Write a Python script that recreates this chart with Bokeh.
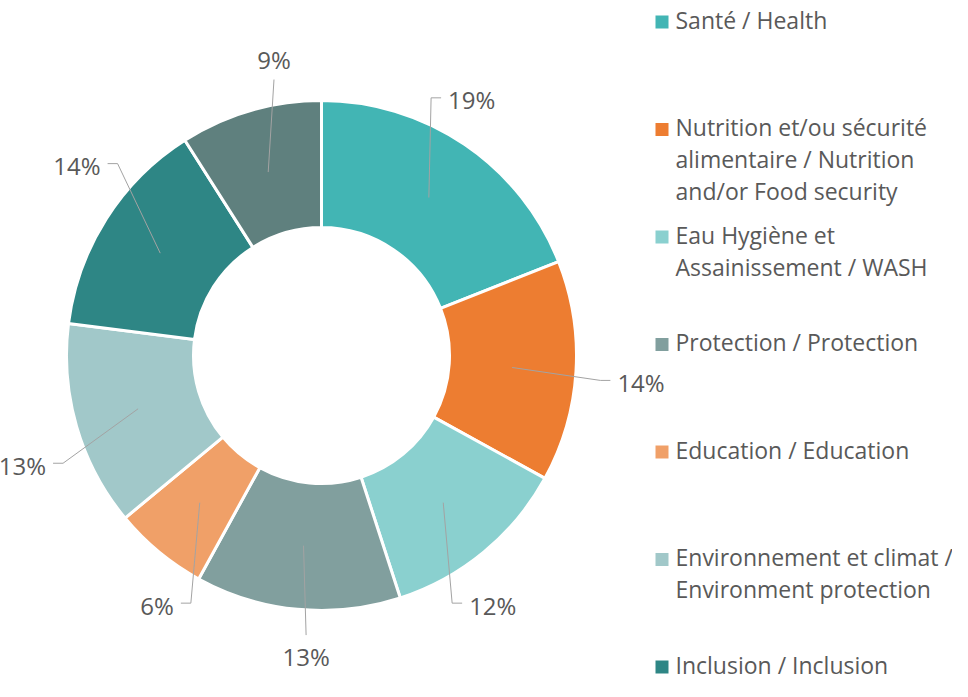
import math
from bokeh.plotting import figure
from bokeh.models import Range1d, ColumnDataSource
from bokeh.core.properties import value
from bokeh.embed import file_html
from bokeh.resources import INLINE

# ---- data ----
categories = [
    "Santé / Health",
    "Nutrition et/ou sécurité\nalimentaire / Nutrition\nand/or Food security",
    "Eau Hygiène et\nAssainissement / WASH",
    "Protection / Protection",
    "Education / Education",
    "Environnement et climat /\nEnvironment protection",
    "Inclusion / Inclusion",
]
shares = [19, 14, 12, 13, 6, 13, 14, 9]
colors = ["#42B5B4", "#ED7D31", "#8AD0CF", "#819F9E", "#F0A068", "#A1C8C9", "#2E8685", "#5F807E"]

# ---- layout (data units = pixels, y measured from the bottom) ----
W, H = 952, 681
CX, CY = 321, H - 355       # donut centre
R_OUT, R_IN = 255, 128
R_LEAD_IN, R_LAB = 191, 280
SEG, GAP = 10, 7
FONT = value("Open Sans")
LBL_FS = "24px"
LEG_FS = "23px"
TXT = "#595959"
LEAD = "#A3A3A3"

p = figure(width=W, height=H, output_backend="svg", toolbar_location=None,
           x_range=Range1d(0, W), y_range=Range1d(0, H), min_border=0)
p.axis.visible = False
p.grid.visible = False
p.outline_line_color = None
p.background_fill_color = "white"
p.border_fill_color = "white"

total = float(sum(shares))
starts, ends, mids = [], [], []
cum = 0.0
for v in shares:
    a0 = 2 * math.pi * cum / total
    a1 = 2 * math.pi * (cum + v) / total
    starts.append(math.pi / 2 - a0)
    ends.append(math.pi / 2 - a1)
    mids.append((a0 + a1) / 2)
    cum += v

src = ColumnDataSource(dict(start=starts, end=ends, color=colors[:len(shares)]))
p.annular_wedge(x=CX, y=CY, inner_radius=R_IN, outer_radius=R_OUT,
                start_angle="start", end_angle="end", direction="clock",
                fill_color="color", line_color="white", line_width=3, source=src)

# leader lines + labels (labels spread toward the vertical axis)
xs, ys = [], []
lx, ly, lt, la = [], [], [], []
k = math.radians(12)
for v, th in zip(shares, mids):
    tl = th - k * math.sin(2 * th)
    x0 = CX + R_LEAD_IN * math.sin(th)
    y0 = CY + R_LEAD_IN * math.cos(th)
    xe = CX + R_LAB * math.sin(tl)
    ye = CY + R_LAB * math.cos(tl)
    if abs(math.sin(tl)) < 0.3:
        xs.append([x0, xe]); ys.append([y0, ye])
        up = math.cos(tl) > 0
        lx.append(xe); ly.append(ye + (20 if up else -21))
        la.append("center")
    else:
        s = 1 if math.sin(tl) > 0 else -1
        xs.append([x0, xe, xe + s * SEG]); ys.append([y0, ye, ye])
        lx.append(xe + s * (SEG + GAP)); ly.append(ye - 2)
        la.append("left" if s > 0 else "right")
    lt.append(f"{v}%")

p.multi_line(xs, ys, line_color=LEAD, line_width=1)
p.text(x=lx, y=ly, text=lt, text_align=la, text_baseline="middle",
       text_font=FONT, text_font_size=LBL_FS, text_color=TXT)

# legend (custom, fixed pitch)
LEG_X, LEG_Y0, LEG_PITCH, LINE_H, SQ = 655, H - 19, 107.5, 32, 13
sq_x, sq_y, sq_c = [], [], []
tx, ty, tt = [], [], []
for i, name in enumerate(categories):
    top = LEG_Y0 - i * LEG_PITCH
    sq_x.append(LEG_X + SQ / 2); sq_y.append(top - 2.5); sq_c.append(colors[i])
    for j, line in enumerate(name.split("\n")):
        tx.append(LEG_X + 20); ty.append(top - j * LINE_H); tt.append(line)
p.rect(x=sq_x, y=sq_y, width=SQ, height=SQ, fill_color=sq_c, line_color=None)
p.text(x=tx, y=ty, text=tt, text_align="left", text_baseline="middle",
       text_font=FONT, text_font_size=LEG_FS, text_color=TXT)

open("out.html", "w").write(file_html(p, INLINE))
